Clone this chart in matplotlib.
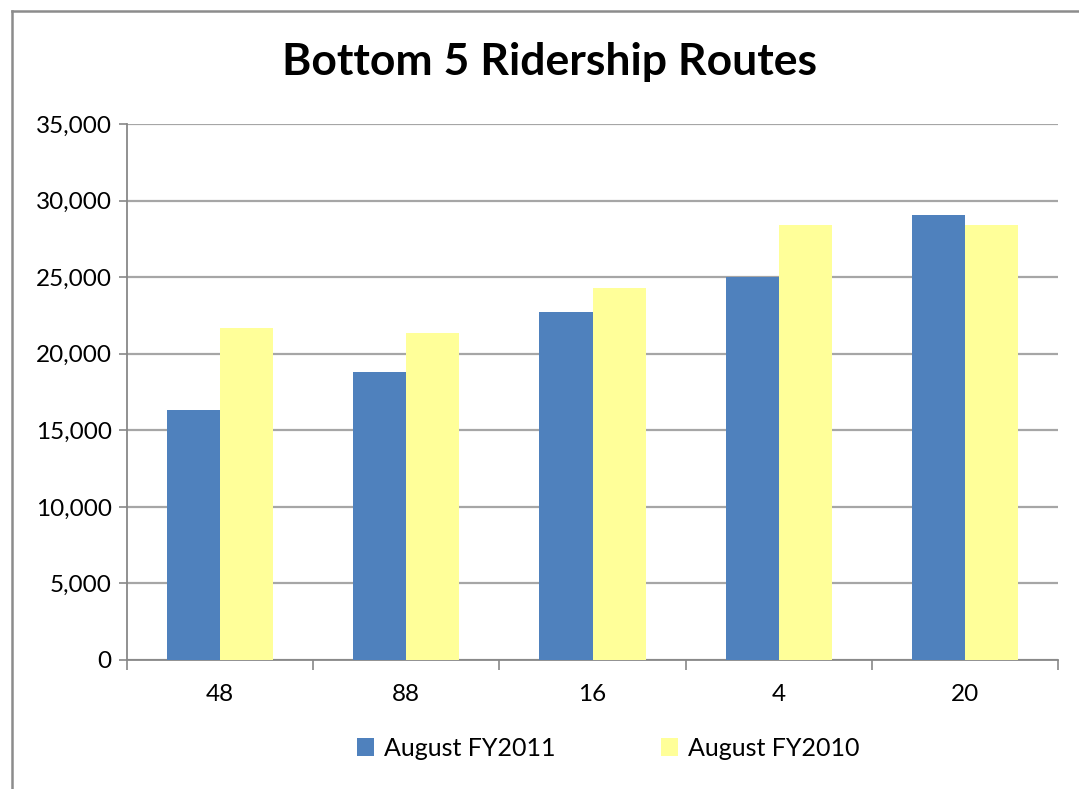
import matplotlib.pyplot as plt
import matplotlib.ticker as mticker
from matplotlib.lines import Line2D
import numpy as np

routes = ['48', '88', '16', '4', '20']
fy2011 = [16300, 18780, 22750, 25020, 29090]
fy2010 = [21670, 21320, 24310, 28390, 28420]
labels = ['August FY2011', 'August FY2010']

plt.rcParams['font.family'] = ['Lato', 'DejaVu Sans']

W, H = 1079, 789
fig = plt.figure(figsize=(W / 100, H / 100), dpi=100)
ax = fig.add_axes([127 / W, (H - 660) / H, (1058 - 127) / W, (660 - 124) / H])

x = np.arange(len(routes))
bw = 0.285
ax.bar(x - bw / 2, fy2011, bw, color='#4F81BD', label=labels[0], zorder=3)
ax.bar(x + bw / 2, fy2010, bw, color='#FFFF99', label=labels[1], zorder=3)

ax.set_xlim(-0.5, len(routes) - 0.5)
ax.set_ylim(0, 35000)
ax.yaxis.set_major_locator(mticker.MultipleLocator(5000))
ax.yaxis.set_major_formatter(mticker.FuncFormatter(lambda v, p: f'{int(v):,}'))
ax.grid(axis='y', color='#A6A6A6', linewidth=1.6, zorder=0)

ax.set_xticks(x)
ax.set_xticklabels(routes)
ax.set_xticks(np.arange(len(routes) + 1) - 0.5, minor=True)
ax.tick_params(axis='x', which='major', length=0, pad=17, labelsize=17.5)
ax.tick_params(axis='x', which='minor', length=7, width=1.2, color='#888888', direction='out')
ax.tick_params(axis='y', length=6, width=1.2, color='#888888', labelsize=17.5, pad=5)

for s in ['top', 'right']:
    ax.spines[s].set_visible(False)
for s in ['left', 'bottom']:
    ax.spines[s].set_color('#888888')
    ax.spines[s].set_linewidth(1.3)

fig.text(550 / W, 1 - 62 / H, 'Bottom 5 Ridership Routes', ha='center', va='center',
         fontsize=32, fontweight='bold')

fig.legend(loc='center', bbox_to_anchor=(608 / W, 1 - 748 / H), ncol=2, frameon=False,
           fontsize=18, handlelength=0.7, handleheight=0.7, handletextpad=0.4,
           columnspacing=4.2)

# outer chart border
fig.add_artist(Line2D([12 / W, 12 / W], [0, 1 - 11 / H], color='#8C8C8C', linewidth=1.8))
fig.add_artist(Line2D([12 / W, 1], [1 - 11 / H, 1 - 11 / H], color='#8C8C8C', linewidth=1.8))

fig.savefig('out.png', dpi=100)
